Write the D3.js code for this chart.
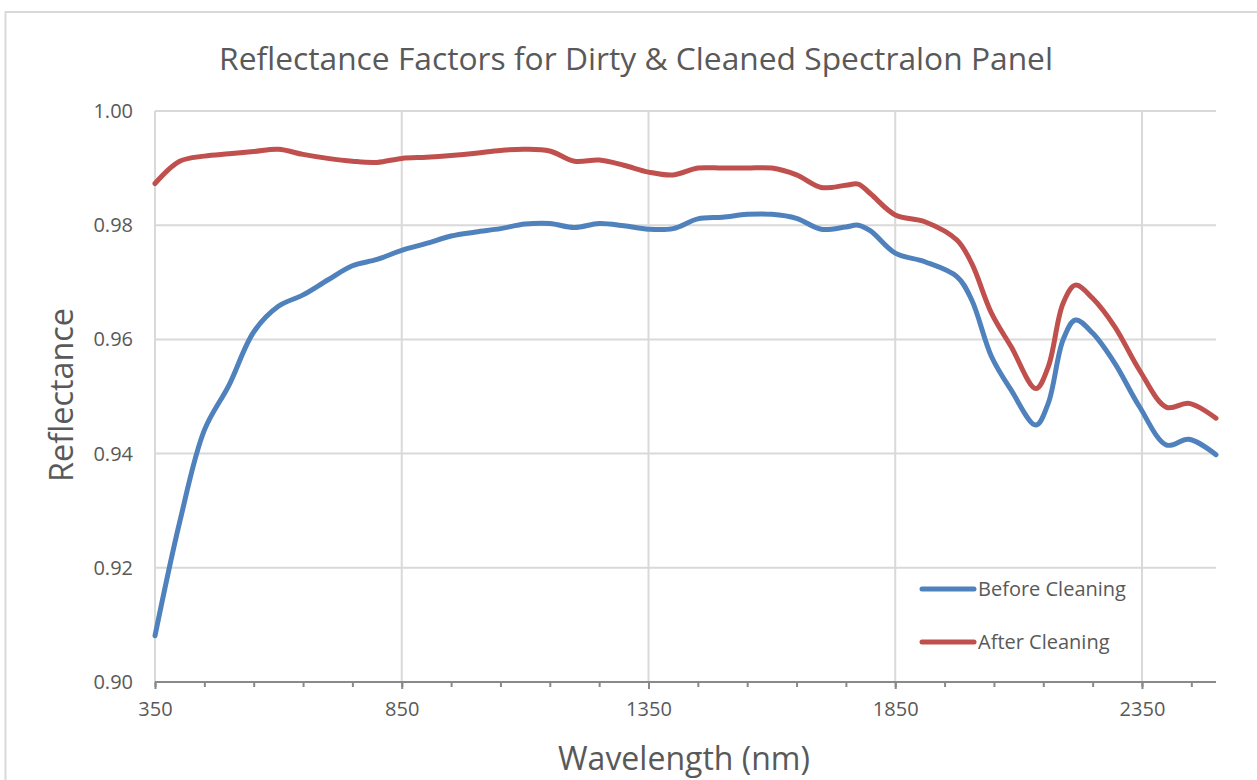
<!DOCTYPE html>
<html><head><meta charset="utf-8">
<script src="https://cdn.jsdelivr.net/npm/d3@7"></script>
<style>body{margin:0;background:#fff;} text{font-family:"Open Sans",sans-serif;}</style>
</head><body><svg id="c" width="1257" height="780"></svg>
<script>
const wavelengths = [350,400,450,500,550,600,650,700,750,800,850,900,950,1000,1050,1100,1150,1200,1250,1300,1350,1400,1450,1500,1550,1600,1650,1700,1750,1775,1800,1850,1910,1975,2005,2045,2085,2135,2160,2190,2215,2250,2295,2345,2400,2445,2500];
const beforeCleaning = [0.9081,0.9280,0.9441,0.9520,0.9613,0.9658,0.9678,0.9704,0.9729,0.9740,0.9756,0.9768,0.9781,0.9788,0.9794,0.9802,0.9803,0.9796,0.9803,0.9799,0.9793,0.9794,0.9811,0.9814,0.9819,0.9819,0.9812,0.9793,0.9797,0.9800,0.9790,0.9751,0.9736,0.9710,0.9669,0.9570,0.9511,0.9450,0.9488,0.9599,0.9634,0.9611,0.9558,0.9482,0.9415,0.9425,0.9398];
const afterCleaning = [0.9873,0.9912,0.9921,0.9925,0.9929,0.9933,0.9924,0.9917,0.9912,0.9910,0.9917,0.9919,0.9922,0.9926,0.9931,0.9933,0.9930,0.9912,0.9914,0.9905,0.9893,0.9888,0.9900,0.9900,0.9900,0.9900,0.9888,0.9866,0.9870,0.9872,0.9855,0.9818,0.9806,0.9774,0.9733,0.9646,0.9587,0.9514,0.9552,0.9663,0.9695,0.9672,0.9622,0.9546,0.9481,0.9488,0.9462];
const seriesNames = ["Before Cleaning","After Cleaning"];
const seriesColors = ["#4F81BD","#C0504D"];
const xTicks = [350,850,1350,1850,2350];
const xMinorTicks = d3.range(350,2501,100);
const yTicks = [0.90,0.92,0.94,0.96,0.98,1.00];
const title = "Reflectance Factors for Dirty & Cleaned Spectralon Panel";
const xTitle = "Wavelength (nm)";
const yTitle = "Reflectance";

const svg = d3.select("#c");
const L=155,R=1216,T=111,B=682;
const x = d3.scaleLinear().domain([350,2500]).range([L,R]);
const y = d3.scaleLinear().domain([0.90,1.00]).range([B,T]);

// chart border
svg.append("rect").attr("x",5.5).attr("y",12).attr("width",1300).attr("height",800)
  .attr("fill","none").attr("stroke","#d9d9d9").attr("stroke-width",2);

// gridlines
svg.append("g").selectAll("line").data(yTicks.slice(1)).join("line")
  .attr("x1",L).attr("x2",R).attr("y1",d=>y(d)).attr("y2",d=>y(d))
  .attr("stroke","#d9d9d9").attr("stroke-width",2);
svg.append("g").selectAll("line").data(xTicks).join("line")
  .attr("x1",d=>x(d)).attr("x2",d=>x(d)).attr("y1",T).attr("y2",B)
  .attr("stroke","#d9d9d9").attr("stroke-width",2);

// x axis
const xAxis = svg.append("g").attr("transform",`translate(0,${B})`)
  .call(d3.axisBottom(x).tickValues(xMinorTicks).tickSize(5).tickFormat(""));
const xAxisMajor = svg.append("g").attr("transform",`translate(0,${B})`)
  .call(d3.axisBottom(x).tickValues(xTicks).tickSize(7).tickFormat(d3.format("d")).tickPadding(13));
[xAxis,xAxisMajor].forEach(g=>{
  g.select(".domain").attr("stroke","#898989").attr("stroke-width",2).attr("d",`M${L},0H${R}`);
  g.selectAll(".tick line").attr("stroke","#898989").attr("stroke-width",2);
});
xAxisMajor.selectAll(".tick text").attr("fill","#595959").attr("font-size",20);

// y axis labels
const yAxis = svg.append("g").attr("transform",`translate(${L},0)`)
  .call(d3.axisLeft(y).tickValues(yTicks).tickSize(0).tickPadding(22).tickFormat(d3.format(".2f")));
yAxis.select(".domain").remove();
yAxis.selectAll(".tick text").attr("fill","#595959").attr("font-size",20);

// lines
const line = d3.line().x(d=>x(d[0])).y(d=>y(d[1])).curve(d3.curveCatmullRom.alpha(0.5));
[beforeCleaning,afterCleaning].forEach((vals,i)=>{
  svg.append("path").datum(wavelengths.map((w,j)=>[w,vals[j]]))
    .attr("d",line).attr("fill","none").attr("stroke",seriesColors[i])
    .attr("stroke-width",5).attr("stroke-linecap","round").attr("stroke-linejoin","round");
});

// legend
const leg = svg.append("g");
seriesNames.forEach((n,i)=>{
  const ly = 589 + i*53;
  leg.append("line").attr("x1",922).attr("x2",974).attr("y1",ly).attr("y2",ly)
    .attr("stroke",seriesColors[i]).attr("stroke-width",5).attr("stroke-linecap","round");
  leg.append("text").attr("x",978).attr("y",ly+7).attr("fill","#595959").attr("font-size",20).text(n);
});

// titles
function fit(t, w){ const l=t.node().getComputedTextLength(); const fs=+t.attr("font-size"); t.attr("font-size",fs*w/l); }
const tt = svg.append("text").attr("x",636).attr("y",70).attr("text-anchor","middle")
  .attr("fill","#595959").attr("font-size",28).text(title);
fit(tt,834);
const xt = svg.append("text").attr("x",684).attr("y",770).attr("text-anchor","middle")
  .attr("fill","#595959").attr("font-size",28).text(xTitle);
fit(xt,252);
const yt = svg.append("text").attr("transform","translate(73,395) rotate(-90)").attr("text-anchor","middle")
  .attr("fill","#595959").attr("font-size",28).text(yTitle);
fit(yt,174);
</script></body></html>
